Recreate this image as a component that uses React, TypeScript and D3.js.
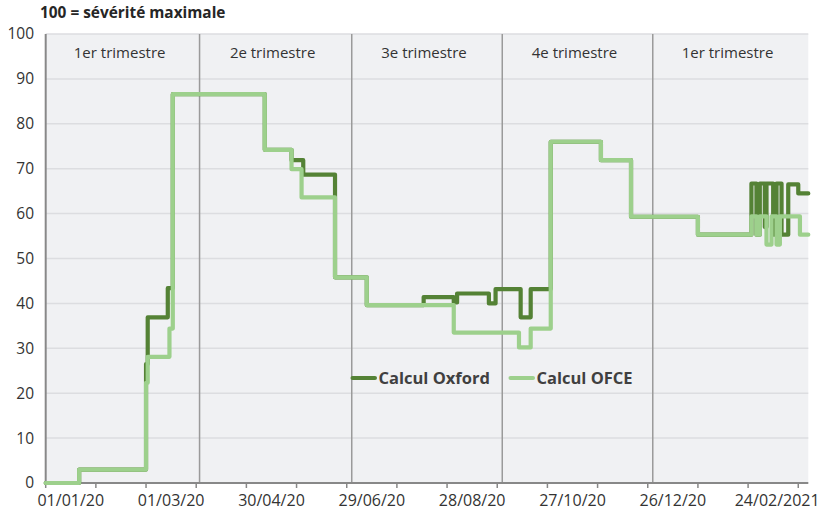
import React from 'react';
import * as d3 from 'd3';

// ---- DATA ----
const oxfordDates = [
  '2020-01-01', '2020-01-21', '2020-03-01', '2020-03-02', '2020-03-14', '2020-03-17',
  '2020-05-11', '2020-05-27', '2020-06-03', '2020-06-22', '2020-07-11', '2020-08-14',
  '2020-09-01', '2020-09-03', '2020-09-22', '2020-09-26', '2020-10-11', '2020-10-17',
  '2020-10-29', '2020-11-28', '2020-12-16', '2021-01-25', '2021-02-26', '2021-03-01',
  '2021-03-03', '2021-03-06', '2021-03-07', '2021-03-11', '2021-03-13', '2021-03-16',
  '2021-03-20', '2021-03-26', '2021-04-01',
];
const oxfordValues = [
  0, 3, 26.5, 36.9, 43.4, 86.6,
  74.2, 71.9, 68.7, 45.8, 39.6, 41.4,
  40.2, 42.2, 40.0, 43.2, 36.9, 43.2,
  76.0, 71.9, 59.3, 55.3, 66.7, 55.3,
  66.7, 57.0, 66.7, 55.3, 66.7, 55.3,
  66.5, 64.5, 64.5,
];
const ofceDates = [
  '2020-01-01', '2020-01-21', '2020-03-01', '2020-03-02', '2020-03-15', '2020-03-17',
  '2020-05-11', '2020-05-27', '2020-06-02', '2020-06-22', '2020-07-11', '2020-09-01',
  '2020-10-10', '2020-10-17', '2020-10-29', '2020-11-28', '2020-12-16', '2021-01-25',
  '2021-02-26', '2021-03-01', '2021-03-03', '2021-03-07', '2021-03-10', '2021-03-13',
  '2021-03-15', '2021-03-27', '2021-04-01',
];
const ofceValues = [
  0, 3, 22.3, 28.1, 34.4, 86.6,
  74.2, 69.9, 63.6, 45.8, 39.6, 33.5,
  30.2, 34.4, 76.0, 71.9, 59.3, 55.3,
  59.4, 55.3, 59.4, 53.1, 59.4, 53.1,
  59.4, 55.3, 55.3,
];
const yTicks = [0, 10, 20, 30, 40, 50, 60, 70, 80, 90, 100];
const xTickLabels = ['01/01/20', '01/03/20', '30/04/20', '29/06/20', '28/08/20', '27/10/20', '26/12/20', '24/02/2021'];
const quarterBreaks = ['2020-04-02', '2020-07-02', '2020-09-30', '2020-12-29'];
const quarterLabels = ['1er trimestre', '2e trimestre', '3e trimestre', '4e trimestre', '1er trimestre'];
const seriesNames = ['Calcul Oxford', 'Calcul OFCE'];
const seriesColors = ['#548235', '#9dd08c'];

const parse = d3.utcParse('%Y-%m-%d');
const startDate = parse('2020-01-01') as Date;
const endDate = parse('2021-04-01') as Date;

export default function App() {
  const W = 824, H = 513;
  const left = 45.7, right = 808.3, top = 34, bottom = 483;
  const x = d3.scaleUtc().domain([startDate, endDate]).range([left, right]);
  const y = d3.scaleLinear().domain([0, 100]).range([bottom, top]);

  const line = d3.line<[Date, number]>()
    .x(d => x(d[0]))
    .y(d => y(d[1]))
    .curve(d3.curveStepAfter);

  const oxford: [Date, number][] = oxfordDates.map((d, i) => [parse(d) as Date, oxfordValues[i]]);
  const ofce: [Date, number][] = ofceDates.map((d, i) => [parse(d) as Date, ofceValues[i]]);

  const minorTicks = d3.range(0, 451, 30).map(k => d3.utcDay.offset(startDate, k));
  const labelDates = xTickLabels.map((_, i) => d3.utcDay.offset(startDate, 15 + 60 * i));

  const breaks = quarterBreaks.map(d => x(parse(d) as Date));
  const bounds = [left, ...breaks, right];

  const font = '"Open Sans", "Noto Sans", sans-serif';
  const textColor = '#333333';

  return (
    <div style={{ position: 'absolute', left: 0, top: 0 }}>
      <svg width={W} height={H} style={{ display: 'block', background: '#ffffff' }}>
        <rect x={left} y={top} width={right - left} height={bottom - top} fill="#f0f1f3" />
        {yTicks.filter(t => t > 0).map(t => (
          <line key={t} x1={left} x2={right} y1={y(t)} y2={y(t)} stroke="#dcdde0" strokeWidth={1.5} />
        ))}
        {breaks.map((bx, i) => (
          <line key={i} x1={bx} x2={bx} y1={top} y2={bottom} stroke="#9a9a9a" strokeWidth={1.5} />
        ))}
        {quarterLabels.map((q, i) => (
          <text key={i} x={(bounds[i] + bounds[i + 1]) / 2 - 3} y={58} textAnchor="middle"
            fontFamily={font} fontSize={15} fill={textColor}>{q}</text>
        ))}
        {/* axes */}
        <line x1={left} x2={left} y1={top} y2={bottom} stroke="#888888" strokeWidth={2} />
        <line x1={left} x2={right} y1={bottom} y2={bottom} stroke="#888888" strokeWidth={2} />
        {minorTicks.map((d, i) => (
          <line key={i} x1={x(d)} x2={x(d)} y1={bottom} y2={bottom + 5} stroke="#888888" strokeWidth={1.5} />
        ))}
        {yTicks.map(t => (
          <text key={t} x={34} y={y(t)} dy="0.35em" textAnchor="end"
            fontFamily={font} fontSize={15.5} fill={textColor}>{t}</text>
        ))}
        {xTickLabels.map((l, i) => (
          <text key={l} x={x(labelDates[i]) + (i === xTickLabels.length - 1 ? 4 : 0)} y={506} textAnchor="middle"
            fontFamily={font} fontSize={16} fill={textColor}>{l}</text>
        ))}
        {/* series */}
        <path d={line(oxford) || ''} fill="none" stroke={seriesColors[0]} strokeWidth={4.2} strokeLinejoin="round" strokeLinecap="round" />
        <path d={line(ofce) || ''} fill="none" stroke={seriesColors[1]} strokeWidth={4.2} strokeLinejoin="round" strokeLinecap="round" />
        {/* legend */}
        {[352.5, 510.5].map((lx, i) => (
          <g key={i}>
            <line x1={lx} x2={lx + 22.5} y1={378} y2={378} stroke={seriesColors[i]} strokeWidth={4} strokeLinecap="round" />
            <text x={lx + 26} y={384} fontFamily={font} fontWeight="bold" fontSize={16.5} fill="#404040">{seriesNames[i]}</text>
          </g>
        ))}
        <text x={40} y={18} fontFamily={font} fontWeight="bold" fontSize={15.4} fill="#262626">100 = sévérité maximale</text>
      </svg>
    </div>
  );
}
